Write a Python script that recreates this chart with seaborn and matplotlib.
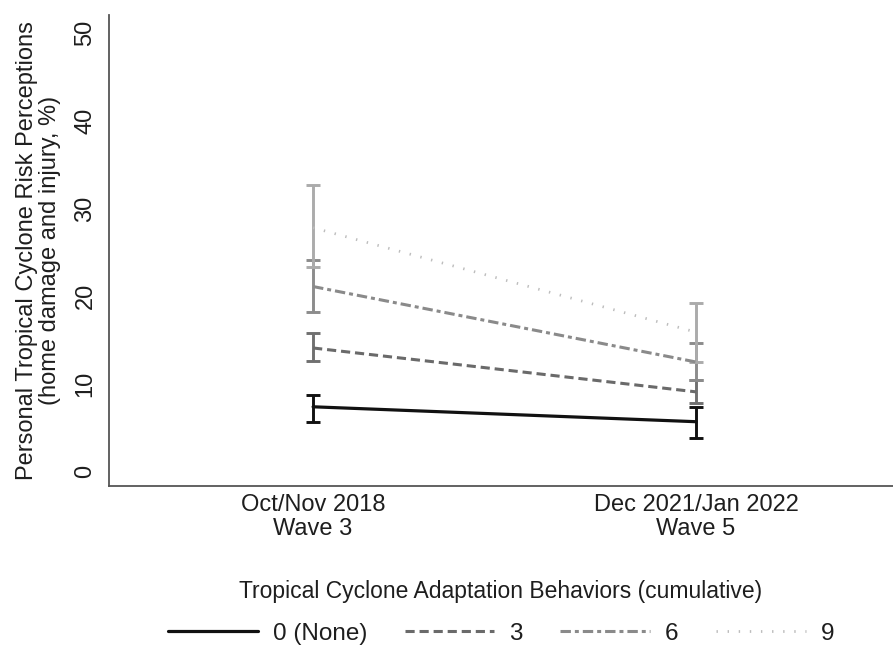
import numpy as np
import pandas as pd
import matplotlib
matplotlib.use("Agg")
import matplotlib.pyplot as plt
import seaborn as sns
from matplotlib.lines import Line2D

# ---- data ----
waves = ["Oct/Nov 2018\nWave 3", "Dec 2021/Jan 2022\nWave 5"]
groups = ["0 (None)", "3", "6", "9"]
est_0 = [7.4, 5.7]
lo_0 = [5.7, 3.9]
hi_0 = [8.8, 7.4]
est_3 = [14.1, 9.1]
lo_3 = [12.6, 7.8]
hi_3 = [15.8, 10.4]
est_6 = [21.1, 12.5]
lo_6 = [18.2, 10.4]
hi_6 = [24.1, 14.7]
est_9 = [27.8, 15.9]
lo_9 = [23.3, 12.5]
hi_9 = [32.7, 19.2]
y_ticks = [0, 10, 20, 30, 40, 50]

ests = [est_0, est_3, est_6, est_9]
los = [lo_0, lo_3, lo_6, lo_9]
his = [hi_0, hi_3, hi_6, hi_9]

rows = []
for g, e, l, h in zip(groups, ests, los, his):
    for i, w in enumerate(waves):
        rows.append({"group": g, "wave": w, "pos": i, "est": e[i], "lo": l[i], "hi": h[i]})
df = pd.DataFrame(rows)

# ---- styles ----
line_colors = {"0 (None)": "#111111", "3": "#6a6a6a", "6": "#8a8a8a", "9": "#bdbdbd"}
bar_colors = {"0 (None)": "#111111", "3": "#707070", "6": "#8c8c8c", "9": "#ababab"}
dashes = {"0 (None)": "", "3": (3.0, 1.6), "6": (3.4, 1.3, 1.3, 1.3), "9": (0.5, 3.5)}
widths = {"0 (None)": 2.3, "3": 2.2, "6": 2.2, "9": 2.0}

sns.set_style("white")
plt.rcParams["font.family"] = ["Liberation Sans", "DejaVu Sans"]
plt.rcParams["text.color"] = "#1e1e1e"
plt.rcParams["xtick.color"] = "#1e1e1e"
plt.rcParams["ytick.color"] = "#1e1e1e"
plt.rcParams["axes.labelcolor"] = "#1e1e1e"
FS = 17

fig = plt.figure(figsize=(8.93, 6.46), dpi=100)
ax = fig.add_axes([0.122, 0.248, 0.878, 0.729])

# error bars (drawn lightest first so darker ones end on top)
for g in reversed(groups):
    sub = df[df.group == g]
    ax.errorbar(sub["pos"], sub["est"],
                yerr=[sub["est"] - sub["lo"], sub["hi"] - sub["est"]],
                fmt="none", ecolor=bar_colors[g], elinewidth=2.1,
                capsize=4.7, capthick=2.1, zorder=2 + groups.index(g) * 0.1)

sns.lineplot(data=df, x="pos", y="est", hue="group", style="group",
             hue_order=groups, style_order=groups,
             palette=line_colors, dashes=dashes, legend=False, ax=ax,
             zorder=3)
for line, g in zip(ax.get_lines()[-len(groups):], groups):
    line.set_linewidth(widths[g])

ax.set_xlim(-0.533, 1.514)
ax.set_ylim(-1.6, 52.05)
ax.set_xticks(range(len(waves)))
ax.set_xticklabels(waves, fontsize=FS, linespacing=1.1)
ax.set_yticks(y_ticks)
ax.set_yticklabels([str(t) for t in y_ticks], fontsize=FS, rotation=90, va="center")
ax.tick_params(axis="both", length=0)
ax.tick_params(axis="x", pad=6)
ax.tick_params(axis="y", pad=9)
ax.set_xlabel("")
ax.set_ylabel("Personal Tropical Cyclone Risk Perceptions\n(home damage and injury, %)",
              fontsize=FS, linespacing=1.05)
ax.yaxis.set_label_coords(-0.0895, 0.5)
ax.yaxis.label.set_verticalalignment("center")

for s in ["top", "right"]:
    ax.spines[s].set_visible(False)
for s in ["left", "bottom"]:
    ax.spines[s].set_color("#555555")
    ax.spines[s].set_linewidth(1.3)

handles = []
for g in groups:
    h = Line2D([0], [0], color=line_colors[g], lw=widths[g])
    if dashes[g]:
        h.set_dashes(dashes[g])
    handles.append(h)
leg = ax.legend(handles, groups, title="Tropical Cyclone Adaptation Behaviors (cumulative)",
                loc="upper center", bbox_to_anchor=(0.5, -0.18), ncol=4, frameon=False,
                fontsize=17.5, title_fontsize=16.5, handlelength=3.7,
                columnspacing=1.55, handletextpad=0.6, borderaxespad=0)
leg._legend_box.sep = 14

fig.savefig("out.png", dpi=100)
